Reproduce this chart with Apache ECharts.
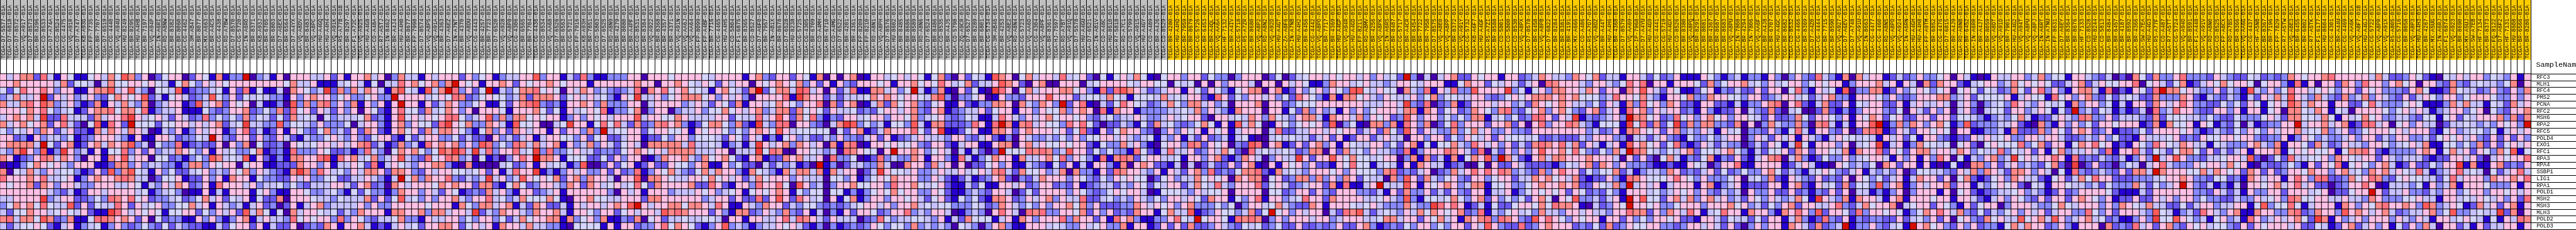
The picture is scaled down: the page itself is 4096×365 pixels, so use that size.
<!DOCTYPE html>
<html><head><meta charset="utf-8">
<style>html,body{margin:0;padding:0;background:#fff;overflow:hidden}#c{width:4096px;height:365px}</style>
<script src="https://cdn.jsdelivr.net/npm/echarts@6/dist/echarts.min.js"></script>
</head><body><div id="c"></div>
<script>
const genes = ["RFC3","MLH1","RFC4","PMS2","PCNA","RFC2","MSH6","RPA2","RFC5","POLD4","EXO1","RFC1","RPA3","RPA4","SSBP1","LIG1","RPA1","POLD1","MSH2","MSH3","MLH3","POLD2","POLD3"];
const levelColors = ["#4500AD","#2700D1","#6B58EF","#8888FF","#C7C1FF","#D5D5FF","#FFC0E5","#FF8989","#FF7080","#FF5A5A","#EF4040","#D60C00"];
const phenotypeColors = ["#C0C0C0","#FFCC00"];
const greyCount = 173;

const idsA = ["D7-5577","D7-6818","D7-8572","VQ-A917","D7-8573","BR-8296","CD-8533","D7-A74A","CD-8524","CG-4475","VQ-A91R","D7-A747","KB-A93G","FP-7735","BR-7707","D7-6519","CG-4440","VQ-A94U","HU-8249","BR-8295","HU-A4HB","BR-7197","VQ-A94P","IN-A6RI","RD-A8NW"];
const idsB = ["BR-8382","BR-8060","CG-4462","3M-AB47","BR-8077","MX-A663","BR-A4CS","CG-4438","RD-A7BW","D7-8570","CG-5720","IN-A6RO","BR-8371","KB-A93J","BR-6705","BR-6803","D7-A6EX","BR-6564","D7-A4YX","VQ-A8DV","BR-8483","VQ-A8PC","HU-A4GQ","HU-A4H4","VQ-A91K","R5-A77B-01B","BR-8297","F1-A72C","VQ-A925","HU-A4G8","CD-A48A","R7-A5TJ","IN-8462","BR-A4J4","HU-A4H0","BR-8677","FP-7998"];
const idsC = ["D7-8574","VQ-A8P5","VQ-A91A","BR-4363","D7-A6EZ","IN-A7NT","BR-4370","VQ-A8DU","CG-4443","BR-4257","BR-7723","D7-6520","VQ-A928","VQ-A8P8","CG-4306","BR-6565","BR-7704","CG-4436","CD-8534","VQ-AA68","D7-6526","BR-6563","CG-5721","FP-7916","KB-A93H","BR-7851","CD-5803","D7-6525","RD-A8N9","BR-4279","BR-8080","BR-A4PF","CD-8531","BR-8384","VQ-A922","BR-8368","BR-4357"];
const idsD = ["BR-4371","VQ-A91N","VQ-AA6J","VQ-AA64","FP-8099","FP-A4BF","BR-7716","CG-4465","HU-A4H5","CD-5804","F1-6875","BR-8365","CD-8527","D7-A6F0","BR-7957","IN-AB1X","BR-8678","D7-6528","HU-8238","CG-5725","CG-4305","BR-6709","CD-A4MH","BR-6710","CD-A4MG","D7-6522","BR-4201","BR-4361","FP-8209","FP-8210","RD-A8N1","VQ-A8PH","D7-8576","HU-8602","BR-8485","BR-8686","BR-8589"];
const idsE = ["RD-A8N6","D7-6524","BR-8486","CD-8535","BR-A4J5","CD-5798","ZQ-A9CR","D7-6527","BR-8289","BR-6801","CG-5734","3M-AB46","BR-4253","VQ-A8E2","RD-A8N4","CG-5723","VQ-AA6D","CG-4304","VQ-A8PF","BR-8361","HJ-7597","RD-A7BT","VQ-A91Q","D7-5578","HU-A4GU","D7-6521","IN-AB1V","CD-A48C","HU-8610","R7-5818","RD-A7C1","CD-5799","VQ-A91S","HU-A4GY","CD-A489","BR-A4J6","CD-8529"];
const idsF = ["BR-4280","HU-A4HD","BR-7959","BR-8679","CG-5726","BR-6453","BR-A4QL","VQ-AA6A","HF-7132","BR-A4IV","CG-5718","R5-A7ZR","BR-8680","VQ-A8P2","RD-A8N2","VQ-A92D","HU-A4GT","ZA-A8F6","IN-A7NB","HU-A4H2","BR-6456","CG-4442","VQ-A8PO","BR-7717","BR-4369","HU-A4GP","VQ-A94R","HU-A4GD","FP-8211","RD-A8MV","BR-4256","VQ-A8PK","IN-A6RS","BR-8487","CG-5717","BR-A4CR","BR-6454"];
const idsG = ["BR-7722","BR-7958","D7-8575","VQ-A8E0","VQ-A8PP","BR-8372","VQ-A91Y","CG-5732","KB-A6F7","HU-A4GF","R5-A7ZI","BR-8588","CD-5801","CD-5800","CD-8530","VQ-A8PX","D7-8578","BR-6458","VQ-A8PB","D7-6822","BR-8284","BR-8381","BR-4191","MX-A666","CD-A486","R5-A7O7","VQ-A8DZ","BR-A44T","HU-A4H6","BR-4368","D7-8579","VQ-AA69","IP-7968","D7-A4YU","HU-A4G9","CG-4441","CG-5719"];
const idsH = ["HU-A4GX","CD-8526","BR-8380","VQ-A8PQ","BR-8291","BR-8081","BR-4367","BR-8687","BR-8683","VQ-A8PU","IN-7808","BR-4294","IN-7806","VQ-AA6F","BR-A4J8","BR-6707","HU-A4GC","BR-8682","CD-8532","CG-4466","BR-8369","D7-A4Z0","CG-4444","BR-7715","BR-8590","VQ-A927","D7-A6EV","D7-A748","VQ-A91U","IN-8663","CG-4477","CG-4460","RD-A8N5","VQ-A8PD","VQ-A924","IN-A6RN","HU-A4GH"];
const idsI = ["HU-A4H8","FP-A9TM","BR-6852","CG-4476","D7-6815","BR-A4J9","RD-A8NB","BR-6452","IN-A6RR","BR-A4J7","BR-8059","VQ-A8DT","VQ-A91D","BR-7901","HU-A4G2","VQ-A94T","VQ-A8PU","VQ-A8PJ","IN-A6RT","IN-A7NU","FP-8631","D7-A6EY","BR-8364","BR-8676","HF-7133","CD-8528","HU-8244","CD-5813","BR-8484","BR-6457","BR-4187","BR-8592","BR-4366","SW-A7EA","HU-A4G3","R5-A77F","CD-A487"];
const idsJ = ["R7-A5TT","CG-5724","VQ-A94O","BR-8591","F1-A448","VQ-A91V","RD-A8N0","CD-8525","FP-A8CX","RD-A7BS","BR-8366","VQ-AA6G","CG-4437","HF-A5NB","BR-8367","BR-7196","FP-7829","R7-A5TW","VQ-A8E3","BR-6455","BR-6802","R7-A5TK","F1-6177","HU-8604","CG-4301","BR-A44U","CG-4469","VQ-AA6K","VQ-A8F7-01B","HU-A4GJ","CG-5722","VQ-A8PR","VQ-A91X","R5-A805","CG-5716","BR-8058","VQ-A8P3"];
const idsK = ["HU-A4H3","BR-4267","MX-A5UG","IN-A6RJ","F1-6874","VQ-A923","BR-8690","MX-A5UJ","SW-A7EB","HF-7134","BR-8373","FQ-8122","D7-A6F2","HF-7131","HU-8608","BR-6566","BR-8286"];

// Colour level (0-b) of each cell; one string per gene row, in panels of columns.
const levelsA = [
"6467 7284 1651 1564 7597 3602 5","6676 6666 4725 5404 7556 6565 4","5258 6686 3661 1677 9469 4305 5","3474 46b2 6463 4632 5765 6924 1","7447 8697 3463 1271 6474 3703 4","6665 7685 3451 2677 8577 5813 4","4676 74a2 2844 4274 668a 6456 4","7467 5672 6842 0591 862b 5552 5","5354 6376 2462 2174 7647 6401 4","6623 1634 4351 2366 6431 6116 6","6777 74b5 2671 2674 7679 3405 3","437a 6391 3a63 4161 5583 6263 4","7612 3687 4763 0661 7694 6605 5","0113 5765 6436 6611 2773 6344 3","7054 7436 4553 1262 9379 5416 3","8666 7684 4561 3676 6787 4402 5","6566 7276 3664 3366 6446 5143 6","6666 6664 3241 2664 6666 4513 4","4466 66a3 4662 2353 8768 5623 3","3576 7585 4492 6254 4862 6456 3","4255 7664 5654 6211 a864 6565 1","7847 7597 2371 1588 7676 2605 2","4245 5652 1461 3451 3632 3532 5"];
const levelsB = [
"6602 6517 133b 0341 6066 6446 2616 6746 0374 4","1575 3646 5666 6666 6574 4611 1456 4150 4486 7","4912 3345 1628 1511 4076 534a 2737 4764 1795 4","5642 3495 3625 4543 3163 6766 3563 3563 3b66 6","6612 9467 2656 0411 3093 7378 3637 1636 16b6 6","4611 1532 3667 2353 7285 6264 2636 0652 1685 5","2642 3835 3537 3542 5274 5405 3444 5723 1695 6","5664 6467 245a 4433 9355 4363 3350 4663 1673 6","3613 6466 1368 2412 6165 3257 3426 2762 1675 6","4233 54b6 3266 2632 6421 4335 6436 3256 6215 2","3812 3226 0637 0522 3065 4566 4646 7824 1273 4","4765 3616 4533 5712 3183 3365 2231 3843 0576 7","2313 5397 4549 1621 3177 6689 1867 4573 4694 3","3137 7365 6605 6611 2227 6636 1446 5281 4654 3","5224 5634 3657 3643 217a 7386 4536 4776 2776 3","5612 2636 1766 1533 2264 6335 5224 4643 14b5 7","4762 3618 6664 6344 5353 2444 6642 6723 0764 6","5301 1614 1666 1563 1166 5334 5315 2533 1376 6","4523 5746 2546 1522 7066 6544 3544 4726 2594 5","3557 4616 4341 4623 0261 4673 4444 6363 3666 6","5566 2536 4629 4751 5074 6654 5243 7666 1776 6","3311 6363 1367 1464 4385 6566 3836 5324 4573 3","2432 2114 2566 2614 2260 2327 6166 7412 1464 5"];
const levelsC = [
"1646 6626 3561 3446 6936 6142 8311 3336 6066 6","5673 7b65 6166 7626 5667 6566 6166 6666 7660 6","1947 b836 25b1 4357 7856 5064 7634 3234 8076 8","6456 5872 3565 5347 2777 6256 4645 3165 a446 3","1624 7633 5611 5267 8932 3166 7637 3336 6046 6","2745 7636 0666 5166 6752 5164 5658 1335 7036 6","4656 8853 4693 7377 5656 6136 3656 4666 9466 5","5528 a657 3376 4195 5600 45a6 6158 5842 7237 8","2747 7653 1573 6276 4661 6266 373b 4556 6256 6","4663 3524 2206 3424 6146 6553 6256 2246 6122 5","1867 6736 3983 5387 4746 7163 4736 4256 4077 7","5359 7a84 a483 6684 5a38 3356 4423 3256 7656 4","2856 8734 0512 0368 6b77 6155 5225 2636 6013 7","6677 3107 1000 4523 6164 5413 9002 6256 1262 2","2646 6554 5626 1486 6a13 1364 6336 2623 8136 5","3766 8324 34a4 6349 6565 7267 3766 4066 9077 6","6657 6766 2772 1575 2366 4376 2764 5645 8527 6","3642 6512 3274 6316 6234 6166 6666 3064 6166 6","3636 6743 6684 5347 5557 5106 6755 4466 6277 6","6566 6175 3774 6714 2762 2416 4664 6769 b646 6","7377 4664 a243 7664 3766 7416 6536 6256 4664 9","1644 6635 3663 5247 5667 7173 5637 1132 7056 2","2667 7625 6461 7664 7443 3105 5551 6166 2336 8"];
const levelsD = [
"5666 6546 6661 6732 6626 5170 6067 0166 4564 6","6765 4652 6466 0656 7657 3626 1632 6665 6166 7","5675 5416 7542 7b25 7749 8460 6248 1177 4635 b","5677 7563 6463 0666 681a 7662 4244 4576 7656 6","6634 6426 5271 6645 7653 6680 7267 0147 2756 7","0344 6355 7564 6734 7727 5652 6445 2325 6646 7","5764 4446 6254 4846 9627 5831 3266 4566 3665 7","6731 2577 5372 1a43 8806 6320 47a9 3534 1553 9","5561 6566 5353 6765 9645 5555 0526 7124 7666 8","3663 5554 2652 6413 1563 4224 3633 2462 6123 4","7748 4454 1341 4a64 6737 6460 7178 0166 5655 6","7777 4446 6044 4a58 7006 6543 4087 6550 6b66 7","6674 3756 7521 6712 2767 4460 8335 0128 3433 7","6553 6711 6352 2042 4341 20b1 3024 4337 4007 6","7432 5747 6631 7543 1747 7471 7466 024a 6554 6","5446 6575 6462 4756 6636 4440 5536 1356 5766 6","6667 2286 2166 3866 8509 6340 3667 5566 3866 7","3444 6563 4561 5656 7615 3550 5513 1356 5756 6","6666 6346 6262 2826 9628 6450 6157 1366 3665 6","7757 7648 6116 4376 6243 5532 3234 5664 6366 7","7876 6626 3177 2364 3732 6140 3162 6652 3668 3","4454 4554 0661 6644 6848 7642 6444 0238 5344 5","5765 2136 9343 1344 6564 2130 3123 2365 3553 7"];
const levelsE = [
"5157 2062 5419 7605 7466 4845 6205 1564 7510 5","5658 6457 2446 9762 0670 0666 0456 6665 4665 5","4137 1062 510a 8605 7466 6775 6318 2897 6423 4","5479 3033 5601 6332 6669 6662 4554 7541 5554 7","3256 1162 1337 7607 4376 3b26 8104 2586 5423 4","3267 1234 4625 6616 6365 5736 7608 1766 1333 3","3456 3235 4114 8643 6467 5665 6324 5344 6433 4","4177 2223 8618 b717 8465 5386 8520 2243 1527 4","526a 1125 6117 7626 7666 5625 8216 2576 6320 3","6444 3663 2462 1306 4334 3536 3556 6464 3451 4","3266 2146 6116 7706 7465 5656 6215 3374 6310 5","6356 4041 4202 b555 8787 3496 6253 5331 8521 4","6166 3184 1357 6617 4467 5836 5318 1787 2566 4","6274 6060 2256 3611 4321 5261 4166 3170 6762 2","3346 4464 5647 8427 5563 4707 3316 2876 6436 1","3364 2124 1236 7203 2476 6636 5325 3656 5502 5","5456 2114 2511 6646 2366 2326 1234 4243 6525 4","3365 2113 4326 6402 5266 6636 5323 5656 6401 5","4256 2153 5217 7623 6467 3644 8224 5343 6435 3","4545 5333 5423 7643 5363 6675 7362 2233 7646 5","4366 4013 4306 8640 8783 3665 7263 6232 7661 5","5436 1427 5551 4617 6366 6837 6626 1867 3113 3","3434 3054 3036 7311 6664 5433 6456 3371 6612 6"];
const levelsF = [
"6636 6253 3036 6602 5024 5664 6566 4636 452b 3","0545 0606 3666 4066 0646 5113 7664 5644 3466 5","6616 5265 3156 7706 7126 3563 6539 9546 5507 4","4546 6218 6253 6646 3528 6531 7177 5643 6544 6","7537 7463 4066 6706 6235 5566 6666 6444 664a 3","4454 7364 3176 6606 6152 7363 4163 6356 6647 7","6456 6206 6454 7637 5436 7741 7664 7365 6239 6","5323 5751 6194 7501 6535 6562 9035 1077 3718 6","6365 6165 6146 6604 8224 4664 6566 2462 7529 6","3614 2623 4145 1004 5454 4246 2612 6624 6440 6","6638 7265 6032 9806 7126 2673 6165 4466 3526 7","8446 2364 7520 8454 4542 3770 6274 5364 4328 1","4516 6367 2137 6403 644a 6266 9657 5545 6603 7","1404 0242 2626 7106 1656 3622 1658 5514 5416 1","6426 7382 3257 7821 7454 3666 5636 5553 7823 2","6344 7565 6076 7705 6237 7373 6376 2544 0739 6","6624 7548 4366 6825 6423 4662 7181 146b 4449 6","5543 6455 6066 6605 5236 6263 2666 3324 1627 3","6646 5276 6153 6816 6345 8662 7666 6445 6439 3","6367 3335 3503 6645 7432 2761 6665 4564 3337 4","7449 1236 5534 725b 5636 4660 4287 9424 5436 4","6854 b566 5187 8703 6366 6466 3466 6445 7746 6","2627 2236 4325 4523 5226 2232 3622 6731 2325 3"];
const levelsG = [
"0404 6722 6566 1662 3476 4437 6572 4416 6425 2","4666 1157 6625 4642 4608 7666 4366 4358 6806 6","3816 4833 9666 6a35 1563 7766 4762 6607 6964 2","3573 5544 6632 3565 6777 6767 5553 4866 5743 1","2802 3712 6664 6634 2765 6764 4352 6417 3856 3","1762 5623 7653 7832 5673 6753 2672 4618 6736 4","3663 5353 7714 5352 3886 264a 1323 463b 7756 2","3702 5836 6626 6726 0683 6687 4315 551a 5827 2","2643 3735 7463 3633 2666 6666 6342 3617 7656 2","6366 2536 5462 6555 4522 3222 4366 6330 4424 6","1515 5743 8646 3624 2787 6847 2641 4619 6756 2","3666 8764 2804 2636 3696 6758 5325 374b 8754 3","1724 1715 7693 b742 1674 7766 6766 6406 2620 5","7644 1230 0506 2264 2222 1354 6727 6363 3321 1","4602 3746 8686 8734 3273 6866 2535 5724 1344 3","2743 5632 6635 6624 4767 5647 2122 6318 7655 5","1656 7634 7715 5633 5676 6767 2265 473b 4646 1","3624 2632 6614 4613 5656 5626 5232 5316 6645 3","1554 5753 6726 3535 2675 0659 3342 461b 6955 2","33a8 6861 2415 2256 6575 8776 1042 365b 6656 3","7576 5672 3814 3564 5374 4366 4644 3668 7726 3","2657 4617 6783 8763 2968 6536 5661 6626 3536 6","6635 3662 6496 3228 2367 6662 3252 7236 5566 3"];
const levelsH = [
"3611 1653 1341 3316 3036 3284 3170 7466 1242 3","1666 5273 5667 4536 4566 3565 6613 6667 4616 4","6511 2561 3242 2626 6058 3164 5190 3377 1263 5","6657 3376 6553 6623 4664 5246 7331 6665 3632 3","7622 1662 2141 3367 8068 2147 2261 5466 2261 4","6623 1631 2260 4327 2045 0027 2131 3666 3250 6","3856 3675 6366 5426 2237 5266 5361 6576 2562 2","5a27 3773 3270 6037 4337 3078 4141 669b 1373 7","6734 3641 6450 3326 3158 4166 3260 2789 1264 2","3215 3353 4660 3642 6461 6431 4655 4541 6462 5","5821 2642 4330 2426 514a 5166 6360 456a 1461 3","5467 2554 6753 1425 5627 6266 5471 7668 2652 6","7413 2571 3262 1467 8047 3125 3363 4566 4163 6","2116 5402 6681 1666 6124 6411 0653 4350 7626 6","7623 2462 5235 3367 5243 1456 5324 6143 4360 2","6865 3633 3560 4537 2164 3262 3260 6535 2461 4","4666 1671 3461 2226 6167 2164 5272 5539 3671 3","4656 3632 4340 6336 2262 3132 6260 4413 1360 3","6747 3674 6342 6536 4347 51a6 4371 7664 1671 6","3566 6366 6756 3425 3672 6644 6832 4756 6704 5","7648 6145 8661 7663 1768 6392 6652 8366 5651 3","5622 1664 2544 2526 6147 3128 3261 3233 2262 4","3236 6464 2620 3636 6176 4272 34b1 3363 2451 b"];
const levelsI = [
"6335 6064 1016 4466 3473 5516 6432 4020 7527 3","0727 6621 4566 3475 6565 2246 7246 5566 8056 4","6535 6056 5254 2375 2683 6316 7741 8021 6528 b","6667 7346 2555 5614 6551 8563 6732 5245 4227 3","6446 4046 3034 5386 4365 4517 3663 5141 6627 6","4263 6046 2045 5266 3465 152b 3425 4131 2408 3","6626 6255 4313 4357 4122 4643 8733 6244 4327 2","6367 5139 2333 4462 1073 1636 3526 6566 6127 1","6656 5066 1133 4172 2273 6526 7623 6122 3526 6","1663 2122 6464 5633 6646 6422 3436 3522 1644 4","7554 5056 2056 5558 3572 6615 7685 6121 6538 6","7746 6476 3544 8354 6261 5734 4642 8166 8425 4","1638 6051 4367 34a5 6466 8618 2324 3241 363b 4","1610 1510 7736 2463 4325 720a 0262 2035 4046 8","5544 3264 7376 4277 6364 0518 3234 3262 774b 7","7662 6057 2125 6376 4421 5624 7586 6222 3334 5","6466 7266 1435 6562 0541 6654 4342 5333 7425 3","6661 6056 2123 4456 3431 2623 6666 5211 1426 6","6656 6166 4214 6365 3262 6626 7653 6122 6226 4","6626 5316 2566 0366 6433 5754 6663 6376 5474 4","5768 6473 2524 3563 6462 4663 3853 6266 6439 5","5362 6056 3275 6449 5674 9634 6745 2311 363a 5","6756 3263 6233 1574 7662 3631 6660 7232 8462 6"];
const levelsJ = [
"3683 3326 4322 5423 2376 5667 8666 6647 4223 6","2571 2465 7566 5056 6318 1606 6276 3866 3675 6","7756 4336 2431 9436 3586 6456 5366 2656 3332 6","3376 2143 2431 4264 7496 4374 3273 4736 4326 2","4686 3322 5352 6515 6497 4766 1662 2584 3335 6","4866 3226 6361 6615 6077 5476 1540 6666 5356 4","5554 4353 2253 3356 4277 5547 5164 5756 3344 3","7556 1651 3250 4123 366b 4667 4671 2884 6056 3","6656 3124 3253 6536 4667 4557 3462 3566 6564 6","5623 2655 6656 6323 3613 6534 3346 3662 4366 3","5476 4415 4333 6743 7166 5274 2364 4366 5345 6","2577 5262 4246 1666 7156 5655 6157 7862 1333 3","6963 3244 5664 9202 5284 4556 3765 4662 6434 4","4333 6566 4756 1032 2353 1626 5815 6536 7412 6","6665 5747 6562 7626 2366 5766 3674 5376 7465 4","6676 3325 5231 7646 6168 6388 2237 5687 3256 5","46b6 3241 3140 6656 7468 4622 0236 6860 1444 3","6666 3326 4241 6336 6266 6456 0225 66b6 2446 3","6366 3533 2243 3645 6387 5566 4464 4376 3335 5","2252 4663 4466 1593 5585 1466 6176 3657 8667 6","4134 2864 3671 1766 3378 2376 6396 7646 7423 4","5965 3415 6341 8634 6467 52a7 1634 6366 6364 3","7326 5645 5326 2656 6646 2254 1267 2463 6152 6"];
const levelsK = [
"5210 5464 6635 4361 6","0663 2732 4544 3570 6","7511 2754 4236 3263 7","4653 6635 6665 3363 6","5111 3747 4415 4274 6","6413 4663 5605 3266 7","2551 5625 4666 7372 7","6440 2445 4343 6563 b","6621 5634 5535 1464 6","3425 6564 6326 2626 3","4711 5535 3726 2564 6","6761 5746 2653 7591 5","4212 2664 6204 6566 8","2253 66a1 7116 7232 6","8413 4684 5405 2468 4","5442 5846 6637 6676 8","5163 4716 6653 3361 6","3243 6635 6636 6564 6","6441 6645 4654 6362 8","3973 4651 2746 2671 6","4673 5933 4544 a270 6","6416 6456 5415 1648 7","3740 6624 1624 4661 6"];

const ids = [...idsA,...idsB,...idsC,...idsD,...idsE,...idsF,...idsG,...idsH,...idsI,...idsJ,...idsK];
const panels = [levelsA,levelsB,levelsC,levelsD,levelsE,levelsF,levelsG,levelsH,levelsI,levelsJ,levelsK];
const samples = ids.map(s => "TCGA-" + (s.split("-").length > 2 ? s : s + "-01A"));
const rows = genes.map((g,r) => panels.map(p => p[r].replace(/ /g,"")).join(""));
rows.forEach((s,r) => { if (s.length !== samples.length) console.error("row "+r+" length "+s.length+" vs "+samples.length); });

const cells = [];
rows.forEach((s,r) => { for (let c = 0; c < samples.length; c++) cells.push([c, r, parseInt(s[c] || "6", 16)]); });
const band = samples.map((s,i) => [i, 0, i < greyCount ? 0 : 1]);

const S = 4096/4581;
const gridW = 4500.7*S, gridT = 131*S, gridH = 276.3*S, bandH = 106*S;
const chart = echarts.init(document.getElementById('c'), null, {renderer:'canvas'});
chart.setOption({
  animation:false, backgroundColor:'#fff',
  title:{text:'SampleName', left:4510*S, top:96.5, padding:0, textStyle:{fontFamily:'Liberation Mono', fontSize:11.8, fontWeight:'normal', color:'#000'}},
  grid:[
    {left:0, top:0, width:gridW, height:bandH},
    {left:0, top:0, width:gridW, height:gridT},
    {left:0, top:gridT, width:gridW, height:gridH},
    {left:gridW, top:gridT, width:4096-gridW+2, height:gridH}
  ],
  xAxis:[
    {gridIndex:0, type:'category', data:samples, z:6, axisLine:{show:false}, axisTick:{show:false}, splitLine:{show:false},
     axisLabel:{interval:0, rotate:90, inside:true, margin:1.5, fontFamily:'Liberation Mono', fontSize:8.9, color:'#000', hideOverlap:false}},
    {gridIndex:1, type:'category', data:samples, z:5, axisLine:{show:false}, axisTick:{show:false}, axisLabel:{show:false},
     splitLine:{show:true, interval:0, lineStyle:{color:'#000', width:1}}},
    {gridIndex:2, type:'category', data:samples, show:false},
    {gridIndex:3, type:'value', show:false, min:0, max:1}
  ],
  yAxis:[
    {gridIndex:0, type:'category', data:['phenotype'], show:false},
    {gridIndex:1, type:'value', show:false, min:0, max:1},
    {gridIndex:2, type:'category', data:genes, inverse:true, show:false},
    {gridIndex:3, type:'category', data:genes, inverse:true, position:'left', z:5,
     axisLine:{show:false}, axisTick:{show:false},
     splitLine:{show:true, interval:0, lineStyle:{color:'#000', width:1}},
     axisLabel:{interval:0, inside:true, margin:9, fontFamily:'Liberation Mono', fontSize:8.9, color:'#000', align:'left', padding:[4,0,0,0]}}
  ],
  visualMap:[
    {type:'piecewise', show:false, seriesIndex:0, dimension:2, pieces:phenotypeColors.map((c,i)=>({value:i, color:c}))},
    {type:'piecewise', show:false, seriesIndex:1, dimension:2, pieces:levelColors.map((c,i)=>({value:i, color:c}))}
  ],
  series:[
    {type:'heatmap', xAxisIndex:0, yAxisIndex:0, data:band, progressive:0, silent:true, itemStyle:{borderWidth:0}, emphasis:{disabled:true}},
    {type:'heatmap', xAxisIndex:2, yAxisIndex:2, data:cells, progressive:0, silent:true, itemStyle:{borderColor:'#000', borderWidth:1}, emphasis:{disabled:true}}
  ]
});
</script></body></html>
